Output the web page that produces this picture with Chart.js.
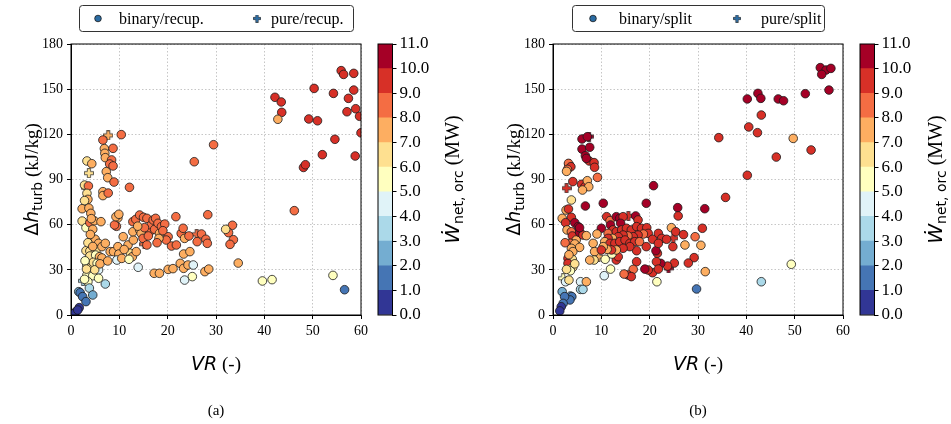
<!DOCTYPE html>
<html>
<head>
<meta charset="utf-8">
<script src="https://cdn.jsdelivr.net/npm/chart.js@4.4.1/dist/chart.umd.min.js"></script>
<style>
  html, body { margin: 0; padding: 0; background: #fff; }
  #wrap { position: relative; width: 951px; height: 424px; overflow: hidden; }
  canvas { position: absolute; top: 0; }
</style>
</head>
<body>
<div id="wrap">
  <canvas id="scatterA" width="372" height="424" style="left:0px"></canvas>
  <canvas id="barA" width="100" height="424" style="left:370px"></canvas>
  <canvas id="scatterB" width="372" height="424" style="left:482px"></canvas>
  <canvas id="barB" width="99" height="424" style="left:852px"></canvas>
</div>
<script>
// rows are [VR (-), dh_turb (kJ/kg), W_net,orc (MW)]
const binaryRecup = [
  [55.9,162.3,9.4],[56.4,159.8,9.6],[58.5,160.5,9.4],[58.5,149.4,9.3],[50.3,150.5,9.2],[54.3,147.2,9.3],
  [57.4,143.9,9.4],[58.9,137.0,9.3],[59.7,132.0,9.2],[60.0,121.0,9.1],[57.1,135.0,9.4],[42.2,144.6,9.2],
  [43.5,141.5,9.3],[43.6,134.6,9.1],[42.8,130.0,7.8],[49.2,130.2,9.2],[51.0,129.0,9.3],[54.6,116.7,9.1],
  [58.8,105.6,9.2],[52.0,106.5,9.3],[48.1,98.0,9.1],[48.5,99.8,9.0],[46.2,69.3,8.6],[29.5,113.1,8.6],
  [25.5,101.8,8.7],[10.4,119.8,8.4],[6.6,116.2,8.7],[12.1,84.8,8.5],[28.3,66.6,8.5],[21.7,65.3,8.6],
  [33.4,59.6,8.4],[32.6,54.7,8.5],[33.6,50.0,8.6],[32.9,46.9,8.7],[34.6,34.5,7.6],[32.0,56.9,6.6],
  [39.6,22.6,5.5],[41.6,23.5,5.6],[54.2,26.3,5.4],[56.6,16.8,1.6],
  [6.9,110.5,7.6],[7.0,107.4,7.5],[7.1,104.5,7.7],[8.7,110.7,8.6],[8.4,103.0,8.5],[8.0,100.3,8.7],
  [8.7,99.0,8.6],[7.3,95.2,7.5],[7.6,91.2,7.4],[8.9,88.3,8.6],[6.6,81.9,7.6],[6.6,79.3,7.5],
  [7.7,81.0,8.5],[3.3,102.3,6.8],[4.3,100.5,7.3],[2.8,86.3,6.9],[3.6,85.7,8.3],[3.3,80.8,6.7],
  [3.5,76.8,7.1],[2.3,70.6,7.4],[3.7,71.0,7.6],[4.1,67.5,7.3],[2.3,62.4,6.6],[3.1,58.0,5.9],
  [3.9,61.3,8.2],[4.8,62.6,7.4],[6.2,62.0,7.5],[4.5,56.9,7.3],[5.0,50.3,7.2],[5.7,47.6,7.5],
  [3.1,42.7,6.6],[3.9,42.5,6.7],[5.2,43.2,6.8],[3.9,39.2,6.2],[5.1,39.8,5.6],[5.9,38.7,7.3],
  [6.4,37.9,7.4],[4.2,32.1,6.1],[4.6,35.0,6.4],[5.4,34.3,5.7],[5.7,29.9,4.5],[3.3,26.6,5.8],
  [4.5,26.1,5.5],[5.7,24.4,5.6],[3.5,22.1,5.4],[2.8,23.7,5.7],[3.8,17.9,3.6],[7.1,20.6,3.5],
  [1.6,15.5,2.4],[1.9,14.8,1.6],[2.4,12.2,1.5],[3.1,8.9,1.4],[4.5,13.3,2.3],[1.7,4.9,0.6],
  [1.0,2.2,0.4],[0.7,1.1,0.3],[1.4,3.3,0.5],[4.0,53.5,7.0],[3.5,48.0,6.5],[4.5,45.5,7.2],
  [2.9,36.0,5.8],[4.9,30.0,6.0],[3.2,30.5,6.3],[6.0,34.0,7.0],[4.2,64.0,7.5],[2.8,76.0,6.6],
  [9.7,64.5,7.6],[9.4,58.9,8.5],
  [7.6,35.9,7.4],[8.1,42.1,7.5],[8.8,42.1,7.6],[9.7,45.4,7.5],[9.9,40.5,7.4],[9.5,36.5,4.6],
  [10.5,37.6,7.5],[9.0,59.8,8.6],[9.3,65.3,7.6],[9.9,66.9,7.5],[11.8,46.5,7.5],[12.3,41.0,6.6],
  [12.7,38.7,7.4],[13.5,42.1,7.6],[12.9,49.8,7.5],[12.8,55.3,7.6],[12.8,62.0,8.5],[13.4,63.5,8.6],
  [14.2,66.4,8.5],[15.0,64.9,8.6],[15.7,64.2,8.4],[14.2,56.5,7.6],[14.5,54.2,7.5],[14.9,50.9,8.5],
  [15.7,46.5,8.6],[16.3,55.3,8.5],[16.6,59.8,8.6],[17.0,63.1,8.5],[17.5,64.2,8.7],[17.3,56.9,8.5],
  [18.0,60.9,8.6],[18.3,54.2,7.6],[18.7,58.7,8.5],[19.4,60.4,8.6],[20.1,52.0,8.5],[19.7,49.8,8.6],
  [18.2,50.9,7.5],[20.8,45.8,8.6],[21.8,46.5,8.5],[22.8,54.2,8.6],[23.2,57.6,8.5],[23.5,50.9,7.6],
  [24.4,52.5,8.5],[23.3,40.5,7.5],[24.6,42.1,7.4],[22.6,34.3,7.5],[23.3,31.0,7.6],[24.2,33.2,7.4],
  [25.3,33.2,4.5],[25.1,25.5,5.6],[23.5,23.2,4.4],[26.1,48.7,8.6],[27.0,53.8,8.5],[27.9,50.3,8.6],
  [28.2,47.6,8.5],[27.7,28.8,7.4],[28.5,30.5,7.5],[17.2,27.7,7.5],[18.3,27.7,7.6],[20.1,30.3,7.4],
  [21.1,30.8,7.5],[13.9,31.7,4.5],[6.4,45.4,7.5],[7.1,47.6,7.4],[16.0,52.5,8.6],[17.8,48.0,8.5],
  [15.2,58.0,8.7],[13.8,59.0,7.6],[11.0,43.5,7.5],[10.8,52.0,7.4],[19.0,56.0,8.5],[12.0,37.0,5.6]
];
const pureRecup = [
  [7.7,119.3,7.6],[3.7,94.2,6.4],[3.1,84.6,7.5],[4.55,50.5,7.0],[4.55,44.0,6.0],
  [15.2,47.0,8.5],[26.0,53.6,8.6],[3.4,33.2,5.8],[2.5,22.7,3.6]
];
const binarySplit = [
  [55.3,164.3,10.6],[56.5,162.7,10.5],[57.5,163.8,10.6],[55.6,159.8,10.5],[57.1,149.4,10.4],[52.2,147.0,10.5],
  [46.6,143.5,10.5],[47.7,142.3,10.6],[42.4,147.2,10.5],[43.0,143.9,10.4],[40.2,143.5,10.5],[43.1,132.8,9.6],
  [40.5,124.9,9.5],[42.3,121.1,9.6],[53.4,109.6,9.5],[46.2,104.9,9.4],[49.7,117.3,7.5],[34.3,117.8,9.6],
  [40.2,92.8,9.5],[35.7,78.1,9.4],[31.4,70.6,10.5],[30.9,57.6,9.5],[29.4,52.0,8.6],[30.6,46.3,7.6],
  [31.5,28.8,7.5],[29.7,17.3,1.6],[43.1,22.1,3.6],[49.3,33.7,5.9],
  [20.8,85.9,10.5],[19.3,74.2,10.6],[25.8,71.3,10.5],[25.9,65.8,9.5],[24.5,58.0,7.5],[25.4,55.3,9.5],
  [27.0,53.4,9.4],[24.8,45.4,9.5],[27.3,46.5,7.6],[29.2,38.1,9.5],[28.0,34.5,9.4],[25.1,34.5,9.6],
  [23.7,32.5,9.5],[22.3,34.3,10.5],[21.4,35.4,9.5],[21.6,41.0,9.6],[21.3,42.7,10.4],[21.5,22.1,5.6],
  [20.6,28.1,9.5],[19.7,29.9,9.4],[19.0,30.5,10.5],[21.8,30.5,9.5],[17.3,35.4,9.5],[16.6,30.3,8.6],
  [15.5,26.6,9.4],[16.2,25.5,9.5],[14.7,27.2,8.5],[13.1,36.5,9.5],[13.5,38.7,9.6],[10.6,26.1,4.5],
  [11.9,30.5,5.5],[10.8,37.0,5.6],[12.2,40.5,5.4],[10.4,74.2,10.5],[10.0,57.6,10.4],[9.1,53.8,7.6],
  [8.3,47.6,7.5],[8.6,42.1,7.4],[8.5,36.5,6.2],[7.6,36.5,7.5],
  [11.1,65.3,9.5],[11.8,62.7,8.6],[13.1,65.3,10.5],[13.8,64.2,10.4],[14.5,65.3,9.5],[17.1,65.8,10.5],
  [17.6,63.1,9.5],[14.0,60.9,10.5],[11.9,59.8,10.4],[12.4,56.5,9.5],[11.4,54.2,8.6],[13.1,55.3,9.5],
  [14.2,56.5,9.4],[15.2,57.6,9.5],[16.2,56.5,9.6],[17.3,58.7,9.5],[18.3,57.6,9.4],[19.4,58.0,9.5],
  [19.7,54.2,9.5],[20.6,50.3,9.6],[18.7,53.8,8.6],[17.6,53.1,9.5],[16.6,52.0,9.4],[15.5,52.5,8.5],
  [14.5,53.1,9.5],[13.5,52.0,9.6],[12.3,50.9,7.6],[11.4,50.9,9.5],[10.7,48.7,7.5],[11.8,47.6,9.5],
  [12.8,47.6,9.4],[13.8,48.7,9.5],[14.9,49.8,9.6],[15.9,47.6,9.5],[16.9,48.7,9.4],[17.9,48.7,8.6],
  [19.3,45.4,9.5],[17.3,42.7,9.5],[15.9,45.4,9.4],[14.5,44.3,9.5],[13.1,43.2,7.6],[12.1,43.2,9.5],
  [11.2,43.6,7.5],[10.4,45.4,7.6],[10.0,43.2,9.4],[21.8,54.2,9.5],[22.5,50.9,9.4],[23.5,50.3,9.5],
  [21.8,47.6,9.6],
  [6.0,116.9,10.5],[7.1,118.4,10.6],[6.0,110.2,10.5],[7.6,111.4,10.4],[6.7,105.8,10.5],[7.5,102.3,9.5],
  [6.9,104.0,10.4],[8.5,101.2,9.5],[8.6,98.1,9.6],[9.2,91.4,8.6],[3.2,100.7,8.5],[3.7,98.5,9.5],
  [3.0,96.7,8.4],[2.8,95.4,7.6],[4.1,88.6,9.5],[5.9,86.8,9.4],[6.6,85.2,9.5],[7.1,89.2,7.6],
  [7.4,85.2,7.5],[6.1,83.0,7.6],[3.8,76.4,6.2],[6.7,72.4,10.5],[2.7,69.7,7.6],[3.2,70.4,9.5],
  [3.8,64.9,9.4],[1.9,64.2,7.5],[2.6,61.3,9.5],[2.9,56.5,7.6],[3.8,55.3,8.6],[4.0,52.5,9.5],
  [4.8,49.8,7.5],[5.5,54.9,10.4],[6.2,53.1,9.5],[6.9,52.7,7.6],[3.6,47.6,8.6],[4.5,47.2,7.5],
  [5.5,44.9,7.6],[3.8,44.3,7.5],[4.1,42.1,7.4],[3.1,37.6,9.5],[4.0,37.0,6.6],[3.1,34.3,9.4],
  [4.1,31.7,6.1],[3.6,29.4,5.9],[2.8,30.3,6.7],[2.6,22.1,4.2],[3.3,23.2,6.0],[5.7,22.1,4.3],
  [5.7,17.0,3.6],[6.2,17.0,3.5],[6.9,22.1,7.4],[1.9,15.5,2.2],[3.6,12.6,2.3],[3.9,12.2,1.6],
  [3.5,10.0,1.2],[2.4,12.2,1.5],[2.1,7.7,1.3],[1.7,5.5,0.6],[1.4,2.7,0.5],[4.5,61.3,10.5],
  [5.2,58.7,10.4],[5.5,58.0,10.5],[3.3,40.0,7.0],[4.5,34.0,6.5],[2.5,48.0,8.5]
];
const pureSplit = [
  [7.45,118.5,10.5],[2.8,84.2,9.5],[4.6,53.0,7.5],[4.6,45.8,6.8],[3.5,32.8,6.2],[2.1,24.4,5.6],
  [9.4,38.7,7.5],[15.6,65.8,9.5],[17.7,57.6,9.5],[13.2,47.6,9.4],[24.9,51.0,9.5],[23.9,31.0,10.4],
  [3.3,100.0,8.5]
];

// colour bins of the W_net,orc scale (RdYlBu reversed, 1 MW per bin)
const wEdges = [0, 1, 2, 3, 4, 5, 6, 7, 8, 9, 10, 11];
const wColors = ['#313695', '#4575b4', '#74add1', '#abd9e9', '#e0f3f8', '#ffffbf',
                 '#fee090', '#fdae61', '#f46d43', '#d73027', '#a50026'];
const vrTicks = [0, 10, 20, 30, 40, 50, 60];
const dhTicks = [0, 30, 60, 90, 120, 150, 180];

const SERIF = '"Liberation Serif", "Times New Roman", serif';
const SANS = '"DejaVu Sans", sans-serif';
const EDGE = '#1a1a1a';

function colorFor(w) {
  const i = Math.min(wColors.length - 1, Math.max(0, Math.floor(w)));
  return wColors[i];
}

// filled "+" marker with a dark outline, cached per colour
const plusCache = {};
function plusMarker(color) {
  if (plusCache[color]) return plusCache[color];
  const s = 10, t = 3.2;
  const c = document.createElement('canvas');
  c.width = c.height = s;
  const g = c.getContext('2d');
  const a = (s - t) / 2, b = (s + t) / 2;
  g.beginPath();
  g.moveTo(a, 0.5); g.lineTo(b, 0.5); g.lineTo(b, a); g.lineTo(s - 0.5, a);
  g.lineTo(s - 0.5, b); g.lineTo(b, b); g.lineTo(b, s - 0.5); g.lineTo(a, s - 0.5);
  g.lineTo(a, b); g.lineTo(0.5, b); g.lineTo(0.5, a); g.lineTo(a, a); g.closePath();
  g.fillStyle = color; g.fill();
  g.lineWidth = 0.7; g.strokeStyle = EDGE; g.stroke();
  plusCache[color] = c;
  return c;
}

// text made of runs with their own fonts and baseline shifts
function richText(ctx, runs, x, y, angle) {
  ctx.save();
  ctx.translate(x, y);
  ctx.rotate(angle || 0);
  let total = 0;
  runs.forEach(r => { ctx.font = r.font; r.w = ctx.measureText(r.t).width; total += r.w; });
  let cx = -total / 2;
  ctx.textAlign = 'left';
  ctx.textBaseline = 'alphabetic';
  ctx.fillStyle = '#000';
  runs.forEach(r => { ctx.font = r.font; ctx.fillText(r.t, cx, r.dy || 0); cx += r.w; });
  ctx.restore();
}

function toPoints(rows) {
  return rows.map(r => ({ x: r[0], y: r[1], w: r[2] }));
}

function scatterChart(id, binRows, pureRows, info) {
  const annotate = {
    id: 'annotate',
    afterDraw(chart) {
      const ctx = chart.ctx;
      const a = chart.chartArea;
      ctx.save();
      ctx.strokeStyle = '#000';
      ctx.lineWidth = 1;
      ctx.strokeRect(a.left, a.top, a.right - a.left, a.bottom - a.top);
      ctx.restore();
      const mid = (a.left + a.right) / 2;
      // axis titles
      richText(ctx, [
        { t: 'VR', font: 'italic 19px ' + SANS },
        { t: ' (-)', font: '19px ' + SERIF }
      ], mid, 370);
      richText(ctx, [
        { t: 'Δ', font: '19px ' + SANS },
        { t: 'h', font: 'italic 19px ' + SANS },
        { t: 'turb', font: '14px ' + SANS, dy: 4 },
        { t: ' (kJ/kg)', font: '19px ' + SERIF }
      ], 38, (a.top + a.bottom) / 2, -Math.PI / 2);
      richText(ctx, [{ t: info.caption, font: '15px ' + SERIF }], mid, 415);
      // legend box
      const L = info.legend;
      ctx.save();
      ctx.beginPath();
      ctx.roundRect(L.x + 0.5, 5.5, L.w, 26, 3);
      ctx.fillStyle = '#fff';
      ctx.fill();
      ctx.strokeStyle = '#333';
      ctx.lineWidth = 1;
      ctx.stroke();
      ctx.beginPath();
      ctx.arc(L.x + L.dot, 18.5, 3.3, 0, Math.PI * 2);
      ctx.fillStyle = '#2b6ca3';
      ctx.fill();
      ctx.lineWidth = 0.8;
      ctx.strokeStyle = EDGE;
      ctx.stroke();
      const pm = plusMarker('#2b6ca3');
      ctx.drawImage(pm, L.x + L.plus - 4, 14.5, 8, 8);
      ctx.font = '16px ' + SERIF;
      ctx.fillStyle = '#000';
      ctx.textBaseline = 'alphabetic';
      ctx.textAlign = 'left';
      ctx.fillText(info.labels[0], L.x + L.t1, 24);
      ctx.fillText(info.labels[1], L.x + L.t2, 24);
      ctx.restore();
    }
  };

  const axisBase = {
    type: 'linear',
    ticks: { color: '#000', font: { family: SERIF, size: 14 }, padding: 4 },
    grid: { color: '#b8b8b8', lineWidth: 0.8, tickLength: 4, tickColor: '#000', tickWidth: 1 },
    border: { display: true, color: '#000', width: 1, dash: [1.5, 2] }
  };

  return new Chart(document.getElementById(id), {
    type: 'scatter',
    data: {
      datasets: [
        {
          label: info.labels[0],
          data: toPoints(binRows),
          pointRadius: 4.3,
          pointBorderWidth: 0.8,
          pointBorderColor: EDGE,
          pointBackgroundColor: c => colorFor(c.raw.w)
        },
        {
          label: info.labels[1],
          data: toPoints(pureRows),
          pointRadius: 5,
          pointStyle: c => plusMarker(colorFor(c.raw.w))
        }
      ]
    },
    options: {
      responsive: false,
      animation: false,
      events: [],
      layout: { padding: { top: 44, right: 11, left: 0, bottom: 0 } },
      plugins: { legend: { display: false }, tooltip: { enabled: false } },
      scales: {
        x: Object.assign({}, axisBase, {
          min: vrTicks[0], max: vrTicks[vrTicks.length - 1],
          afterBuildTicks: s => { s.ticks = vrTicks.map(v => ({ value: v })); },
          afterFit: s => { s.height = 109; }
        }),
        y: Object.assign({}, axisBase, {
          min: dhTicks[0], max: dhTicks[dhTicks.length - 1],
          afterBuildTicks: s => { s.ticks = dhTicks.map(v => ({ value: v })); },
          afterFit: s => { s.width = 71; }
        })
      }
    },
    plugins: [annotate]
  });
}

function colorbarChart(id, titleX) {
  const frame = {
    id: 'cbFrame',
    afterDraw(chart) {
      const ctx = chart.ctx;
      const a = chart.chartArea;
      ctx.save();
      ctx.strokeStyle = '#000';
      ctx.lineWidth = 1;
      ctx.strokeRect(a.left, a.top, a.right - a.left, a.bottom - a.top);
      ctx.restore();
      richText(ctx, [
        { t: 'Ẇ', font: 'italic 20px ' + SANS },
        { t: 'net, orc', font: '14px ' + SANS, dy: 4 },
        { t: ' (MW)', font: '20px ' + SERIF }
      ], titleX, (a.top + a.bottom) / 2, -Math.PI / 2);
    }
  };
  return new Chart(document.getElementById(id), {
    type: 'bar',
    data: {
      labels: ['W'],
      datasets: wColors.map((c, i) => ({
        data: [[wEdges[i], wEdges[i + 1]]],
        backgroundColor: c,
        borderWidth: 0,
        barPercentage: 1,
        categoryPercentage: 1,
        grouped: false
      }))
    },
    options: {
      responsive: false,
      animation: false,
      events: [],
      layout: { padding: { top: 44, left: 8, right: 0, bottom: 109 } },
      plugins: { legend: { display: false }, tooltip: { enabled: false } },
      scales: {
        x: { display: false },
        y: {
          position: 'right',
          min: wEdges[0], max: wEdges[wEdges.length - 1],
          afterBuildTicks: s => { s.ticks = wEdges.map(v => ({ value: v })); },
          ticks: { color: '#000', font: { family: SERIF, size: 17 }, padding: 3, callback: v => v.toFixed(1) },
          grid: { drawOnChartArea: false, tickLength: 4, tickColor: '#000' },
          border: { display: true, color: '#000' },
          afterFit: s => { s.width = s.chart.width - 8 - 14.5; }
        }
      }
    },
    plugins: [frame]
  });
}

scatterChart('scatterA', binaryRecup, pureRecup, {
  labels: ['binary/recup.', 'pure/recup.'],
  caption: '(a)',
  legend: { x: 79, w: 274, dot: 19, t1: 40, plus: 178, t2: 192 }
});
colorbarChart('barA', 89);
scatterChart('scatterB', binarySplit, pureSplit, {
  labels: ['binary/split', 'pure/split'],
  caption: '(b)',
  legend: { x: 90, w: 252, dot: 21, t1: 47, plus: 165, t2: 189 }
});
colorbarChart('barB', 90);
</script>
</body>
</html>
